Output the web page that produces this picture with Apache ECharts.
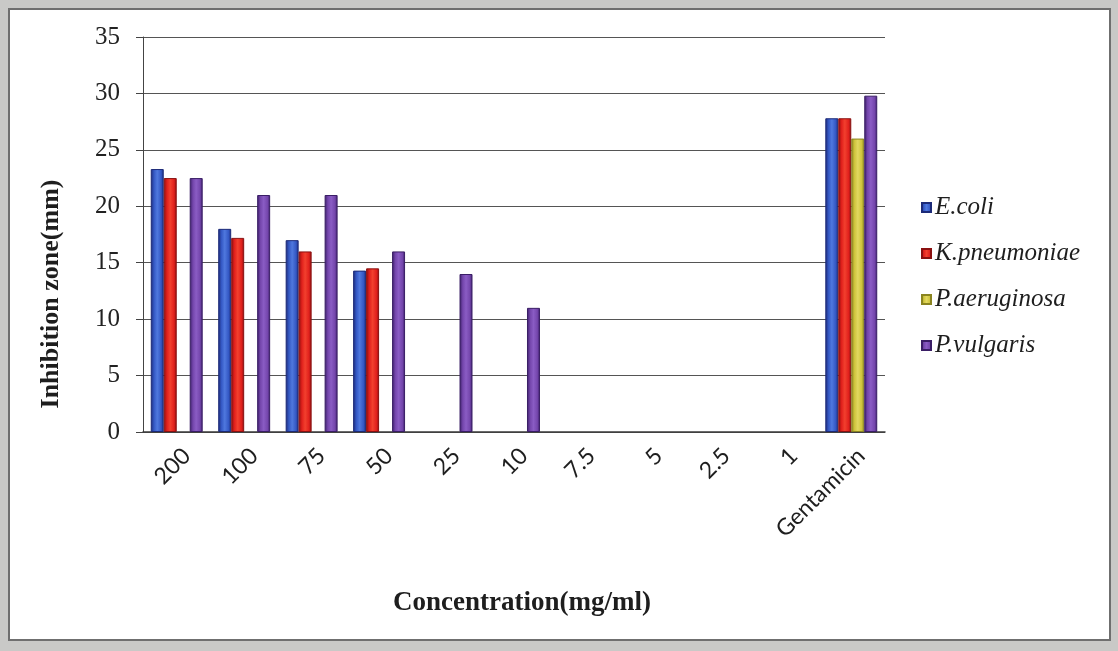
<!DOCTYPE html>
<html>
<head>
<meta charset="utf-8">
<script src="https://cdn.jsdelivr.net/npm/echarts@6/dist/echarts.min.js"></script>
<style>
  html, body { margin: 0; padding: 0; background: #c9c9c7; }
  #chart { width: 1118px; height: 651px; }
</style>
</head>
<body>
<div id="chart"></div>
<script>
// Concentration categories (mg/ml) plus the reference antibiotic
const categories = ['200', '100', '75', '50', '25', '10', '7.5', '5', '2.5', '1', 'Gentamicin'];

// Inhibition zone diameters (mm) per organism
const ecoli       = [23.3, 18.0, 17.0, 14.3, 0, 0, 0, 0, 0, 0, 27.8];
const kpneumoniae = [22.5, 17.2, 16.0, 14.5, 0, 0, 0, 0, 0, 0, 27.8];
const paeruginosa = [0, 0, 0, 0, 0, 0, 0, 0, 0, 0, 26.0];
const pvulgaris   = [22.5, 21.0, 21.0, 16.0, 14.0, 11.0, 0, 0, 0, 0, 29.8];

const seriesNames = ['E.coli', 'K.pneumoniae', 'P.aeruginosa', 'P.vulgaris'];
const yTicks = { min: 0, max: 35, interval: 5 };

const chart = echarts.init(document.getElementById('chart'));
const serif = '"Liberation Serif", "DejaVu Serif", serif';
const sans = 'Lato, "Liberation Sans", sans-serif';

// Cylinder-like shading: dark edges, bright middle
function shade(edge, mid, light) {
  return new echarts.graphic.LinearGradient(0, 0, 1, 0, [
    { offset: 0, color: edge },
    { offset: 0.25, color: mid },
    { offset: 0.5, color: light },
    { offset: 0.8, color: mid },
    { offset: 1, color: edge }
  ]);
}

const palettes = [
  { edge: '#1c2a78', mid: '#3458c4', light: '#4f78de', legend: '#3553b8' },
  { edge: '#8a1010', mid: '#e0201c', light: '#f2402e', legend: '#e02020' },
  { edge: '#8a8420', mid: '#cfc43c', light: '#e2d860', legend: '#cdbf45' },
  { edge: '#3a1e66', mid: '#7446ac', light: '#8a5cc4', legend: '#7448ac' }
];

const dataSets = [ecoli, kpneumoniae, paeruginosa, pvulgaris];

const series = dataSets.map((d, i) => ({
  name: seriesNames[i],
  type: 'bar',
  // zero-width zones get no outline so nothing shows on the baseline
  data: d.map(v => v === 0 ? { value: 0, itemStyle: { borderWidth: 0, opacity: 0 } } : v),
  barGap: '0%',
  barCategoryGap: '23%',
  itemStyle: {
    color: shade(palettes[i].edge, palettes[i].mid, palettes[i].light),
    borderColor: palettes[i].edge,
    borderWidth: 1
  }
}));

chart.setOption({
  backgroundColor: 'transparent',
  animation: false,
  color: palettes.map(p => p.legend),
  graphic: [
    {
      type: 'rect',
      z: -10,
      shape: { x: 9, y: 9, width: 1101, height: 631 },
      style: { fill: '#ffffff', stroke: '#6f6f6f', lineWidth: 2 }
    },
    {
      type: 'text',
      x: 51,
      y: 294,
      rotation: Math.PI / 2,
      style: {
        text: 'Inhibition zone(mm)',
        font: 'bold 26px ' + serif,
        fill: '#1e1e1e',
        textAlign: 'center',
        textVerticalAlign: 'middle'
      }
    },
    {
      type: 'text',
      x: 522,
      y: 603,
      style: {
        text: 'Concentration(mg/ml)',
        font: 'bold 27px ' + serif,
        fill: '#1e1e1e',
        textAlign: 'center',
        textVerticalAlign: 'middle'
      }
    }
  ],
  legend: {
    orient: 'vertical',
    left: 916,
    top: 188,
    itemWidth: 9,
    itemHeight: 9,
    itemGap: 17,
    icon: 'rect',
    data: seriesNames,
    textStyle: {
      fontFamily: serif,
      fontStyle: 'italic',
      fontSize: 25,
      lineHeight: 29,
      color: '#1e1e1e',
      padding: [0, 0, 0, -1]
    }
  },
  grid: { left: 143, right: 233, top: 37, bottom: 219, containLabel: false },
  xAxis: {
    type: 'category',
    data: categories,
    axisLine: { show: true, lineStyle: { color: '#3a3a3a', width: 1.5 } },
    axisTick: { show: false },
    axisLabel: {
      rotate: 45,
      margin: 30,
      // pull each slanted label a little past its category centre
      padding: [0, -14, 0, 0],
      fontFamily: sans,
      fontSize: 23,
      color: '#1e1e1e',
      interval: 0
    }
  },
  yAxis: {
    type: 'value',
    min: yTicks.min,
    max: yTicks.max,
    interval: yTicks.interval,
    axisLine: { show: true, lineStyle: { color: '#444', width: 1 } },
    axisTick: { show: true, length: 7, lineStyle: { color: '#444' } },
    splitLine: { show: true, lineStyle: { color: '#555', width: 1 } },
    axisLabel: {
      margin: 23,
      fontFamily: serif,
      fontSize: 25,
      color: '#222'
    }
  },
  series: series
});
</script>
</body>
</html>
